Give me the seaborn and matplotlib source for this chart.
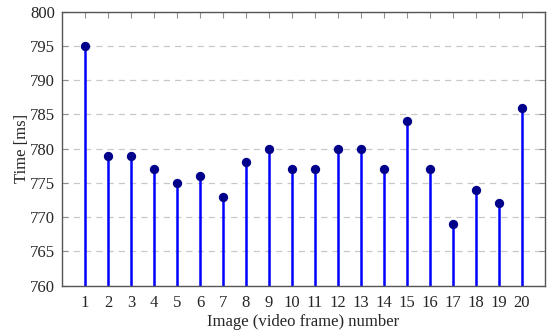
import numpy as np
import pandas as pd
import seaborn as sns
import matplotlib.pyplot as plt

frames = list(range(1, 21))
times = [795, 779, 779, 777, 775, 776, 773, 778, 780, 777,
         777, 780, 780, 777, 784, 777, 769, 774, 772, 786]

df = pd.DataFrame({"frame": frames, "time": times})

sns.set_style("white")
plt.rcParams["font.family"] = ["Liberation Serif", "DejaVu Serif"]

fig, ax = plt.subplots(figsize=(5.5, 3.36), dpi=100)
ax.set_axisbelow(True)
ax.yaxis.grid(True, linestyle=(0, (5, 4)), color="#c8c8c8", linewidth=0.9)

ax.vlines(df["frame"], 760, df["time"], color="#0000ff", linewidth=1.8, zorder=2)
sns.scatterplot(data=df, x="frame", y="time", ax=ax, color="#00008b",
                s=45, edgecolor="#00008b", linewidth=0, zorder=3)

ax.set_xlim(0, 21)
ax.set_ylim(760, 800)
ax.set_xticks(frames)
ax.set_yticks(np.arange(760, 801, 5))
ax.tick_params(axis="both", labelsize=12, direction="in", length=4,
               color="#909090", top=True, right=True, bottom=True, left=True)
ax.tick_params(axis="x", pad=7)
ax.tick_params(axis="y", pad=5)
ax.set_xlabel("Image (video frame) number", fontsize=12, labelpad=2)
ax.set_ylabel("Time [ms]", fontsize=12, labelpad=0)
for s in ax.spines.values():
    s.set_color("#555555")
    s.set_linewidth(1.0)

fig.subplots_adjust(left=0.113, right=0.99, top=0.965, bottom=0.15)
fig.savefig("out.png", dpi=100)
